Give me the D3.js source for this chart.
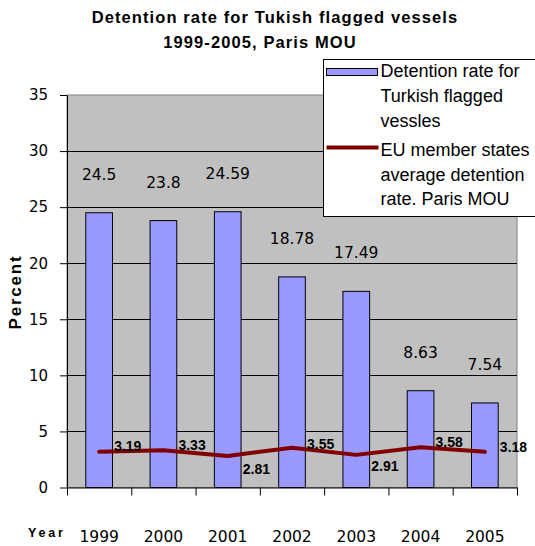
<!DOCTYPE html>
<html>
<head>
<meta charset="utf-8">
<script src="https://cdn.jsdelivr.net/npm/d3@7/dist/d3.min.js"></script>
<style>
  body { margin: 0; background: #fff; }
</style>
</head>
<body>
<div id="chart"></div>
<script>
// data
var years = ["1999", "2000", "2001", "2002", "2003", "2004", "2005"];
var turkishRates = [24.5, 23.8, 24.59, 18.78, 17.49, 8.63, 7.54];
var euRates = [3.19, 3.33, 2.81, 3.55, 2.91, 3.58, 3.18];
var yTicks = [0, 5, 10, 15, 20, 25, 30, 35];
var titleLines = ["Detention rate for Tukish flagged vessels", "1999-2005, Paris MOU"];
var legendBarText = ["Detention rate for", "Turkish flagged", "vessles"];
var legendLineText = ["EU member states", "average detention", "rate. Paris MOU"];

var svgWidth = 535;
var svgHeight = 546;

var margin = {
  top: 95,
  bottom: 58.5,
  right: 18,
  left: 67
};

var width = svgWidth - margin.left - margin.right;
var height = svgHeight - margin.top - margin.bottom;

var barColor = "#9999ff";
var lineColor = "#800000";
var plotColor = "#c0c0c0";

// vertical nudge of each line label from its point (label sits right of the point)
var lineLabelShift = [-6, -5, 13, -4, 11, -5, -5];

var svg = d3.select("#chart")
  .append("svg")
  .attr("width", svgWidth)
  .attr("height", svgHeight)
  .style("font-family", "Arial, 'Liberation Sans', sans-serif");

// title
svg.selectAll(".title")
  .data(titleLines)
  .enter()
  .append("text")
  .attr("class", "title")
  .attr("x", (d, i) => i === 0 ? 275 : 260)
  .attr("y", (d, i) => 17 + i * 25)
  .attr("dy", "0.35em")
  .attr("text-anchor", "middle")
  .attr("font-size", "16.5px")
  .attr("font-weight", "bold")
  .attr("letter-spacing", "1.1px")
  .attr("fill", "#000")
  .text(d => d);

var chartGroup = svg.append("g")
  .attr("transform", `translate(${margin.left}, ${margin.top})`);

// scales
var xBandScale = d3.scaleBand()
  .domain(years)
  .range([0, width])
  .paddingInner(0.585)
  .paddingOuter(0.2925);

var xEdgeScale = d3.scaleLinear()
  .domain([0, years.length])
  .range([0, width]);

var yLinearScale = d3.scaleLinear()
  .domain([0, 35])
  .range([height, 0]);

// plot area
chartGroup.append("rect")
  .attr("x", 0)
  .attr("y", 0)
  .attr("width", width)
  .attr("height", height)
  .attr("fill", plotColor)
  .attr("stroke", "#808080")
  .attr("stroke-width", 1);

// gridlines
chartGroup.selectAll(".grid")
  .data(yTicks.filter(d => d > 0 && d < 35))
  .enter()
  .append("line")
  .attr("class", "grid")
  .attr("x1", 0)
  .attr("x2", width)
  .attr("y1", d => Math.round(yLinearScale(d)) + 0.5)
  .attr("y2", d => Math.round(yLinearScale(d)) + 0.5)
  .attr("stroke", "#000")
  .attr("stroke-width", 1);

// bars
chartGroup.selectAll(".bar")
  .data(turkishRates)
  .enter()
  .append("rect")
  .attr("class", "bar")
  .attr("x", (d, i) => xBandScale(years[i]))
  .attr("y", d => yLinearScale(d))
  .attr("width", xBandScale.bandwidth())
  .attr("height", d => height - yLinearScale(d))
  .attr("fill", barColor)
  .attr("stroke", "#000")
  .attr("stroke-width", 1);

// bar value labels
chartGroup.selectAll(".barLabel")
  .data(turkishRates)
  .enter()
  .append("text")
  .attr("class", "barLabel")
  .attr("x", (d, i) => xBandScale(years[i]) + xBandScale.bandwidth() / 2)
  .attr("y", d => yLinearScale(d) - 38.5)
  .attr("dy", "0.35em")
  .attr("text-anchor", "middle")
  .attr("font-family", "'DejaVu Sans', Verdana, sans-serif")
  .attr("font-size", "15.5px")
  .attr("fill", "#000")
  .text(d => d);

// axes
var yAxis = d3.axisLeft(yLinearScale)
  .tickValues(yTicks)
  .tickSize(7)
  .tickSizeOuter(0)
  .tickPadding(12);

var yAxisGroup = chartGroup.append("g").call(yAxis);
yAxisGroup.selectAll("text")
  .attr("font-family", "'DejaVu Sans', Verdana, sans-serif")
  .attr("font-size", "15px")
  .attr("fill", "#000");

var xAxis = d3.axisBottom(xEdgeScale)
  .tickValues(d3.range(0, years.length + 1))
  .tickSize(8)
  .tickSizeOuter(0)
  .tickFormat("");

chartGroup.append("g")
  .attr("transform", `translate(0, ${height})`)
  .call(xAxis);

chartGroup.selectAll(".domain, .tick line")
  .attr("stroke", "#000");

// year labels
chartGroup.selectAll(".yearLabel")
  .data(years)
  .enter()
  .append("text")
  .attr("class", "yearLabel")
  .attr("x", d => xBandScale(d) + xBandScale.bandwidth() / 2)
  .attr("y", height + 49)
  .attr("dy", "0.35em")
  .attr("text-anchor", "middle")
  .attr("font-family", "'DejaVu Sans', Verdana, sans-serif")
  .attr("font-size", "15.5px")
  .attr("fill", "#000")
  .text(d => d);

// EU average line
var line = d3.line()
  .x((d, i) => xBandScale(years[i]) + xBandScale.bandwidth() / 2)
  .y(d => yLinearScale(d));

chartGroup.append("path")
  .datum(euRates)
  .attr("d", line)
  .attr("fill", "none")
  .attr("stroke", lineColor)
  .attr("stroke-width", 4)
  .attr("stroke-linejoin", "round")
  .attr("stroke-linecap", "round");

chartGroup.selectAll(".lineLabel")
  .data(euRates)
  .enter()
  .append("text")
  .attr("class", "lineLabel")
  .attr("x", (d, i) => xBandScale(years[i]) + xBandScale.bandwidth() / 2 + 15)
  .attr("y", (d, i) => yLinearScale(d) + lineLabelShift[i])
  .attr("dy", "0.35em")
  .attr("font-size", "14px")
  .attr("font-weight", "bold")
  .attr("fill", "#000")
  .text(d => d.toFixed(2));

// axis titles
svg.append("text")
  .attr("transform", "rotate(-90)")
  .attr("x", -292)
  .attr("y", 15)
  .attr("dy", "0.35em")
  .attr("text-anchor", "middle")
  .attr("font-size", "17px")
  .attr("font-weight", "bold")
  .attr("letter-spacing", "1.8px")
  .text("Percent");

svg.append("text")
  .attr("x", 28)
  .attr("y", 533)
  .attr("dy", "0.35em")
  .attr("font-size", "12.5px")
  .attr("font-weight", "bold")
  .attr("letter-spacing", "2.8px")
  .text("Year");

// legend
var legend = svg.append("g")
  .attr("transform", "translate(323.5, 59.5)");

legend.append("rect")
  .attr("width", 240)
  .attr("height", 157)
  .attr("fill", "#fff")
  .attr("stroke", "#000")
  .attr("stroke-width", 1);

legend.append("rect")
  .attr("x", 3)
  .attr("y", 9)
  .attr("width", 51)
  .attr("height", 7)
  .attr("fill", barColor)
  .attr("stroke", "#000")
  .attr("stroke-width", 1);

legend.append("line")
  .attr("x1", 3)
  .attr("x2", 55)
  .attr("y1", 88)
  .attr("y2", 88)
  .attr("stroke", lineColor)
  .attr("stroke-width", 4);

legend.selectAll(".legendBar")
  .data(legendBarText)
  .enter()
  .append("text")
  .attr("class", "legendBar")
  .attr("x", 57)
  .attr("y", (d, i) => 11 + i * 25.3)
  .attr("dy", "0.35em")
  .attr("font-size", "18px")
  .text(d => d);

legend.selectAll(".legendLine")
  .data(legendLineText)
  .enter()
  .append("text")
  .attr("class", "legendLine")
  .attr("x", 57)
  .attr("y", (d, i) => 90.5 + i * 24.2)
  .attr("dy", "0.35em")
  .attr("font-size", "18px")
  .text(d => d);
</script>
</body>
</html>
